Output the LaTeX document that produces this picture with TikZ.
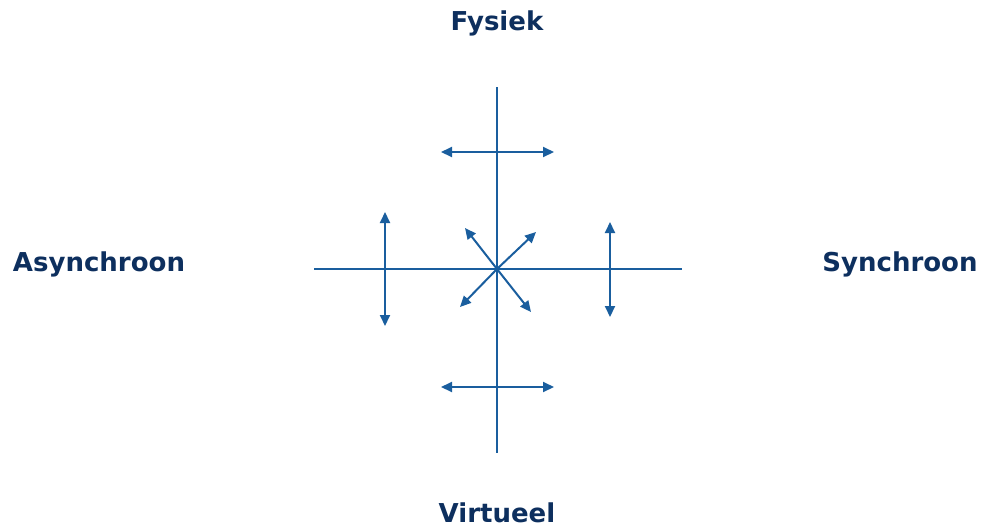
\documentclass[tikz,border=0pt]{standalone}
\usepackage{fontspec}
\setmainfont{DejaVu Sans}
\usetikzlibrary{arrows.meta}
\definecolor{txtc}{HTML}{0D2F5E}
\definecolor{linec}{HTML}{1A5E9E}
\begin{document}
\begin{tikzpicture}[x=1pt,y=-1pt,
  axis/.style={draw=linec,line width=2.6pt},
  dbl/.style={draw=linec,line width=2pt,{Triangle[length=11pt,width=10pt]}-{Triangle[length=11pt,width=10pt]}},
  one/.style={draw=linec,line width=2pt,-{Triangle[length=11pt,width=10pt]}},
  lbl/.style={text=txtc,font=\bfseries\fontsize{26}{30}\selectfont,inner sep=0pt}]
\useasboundingbox (0,0) rectangle (983,528);
\coordinate (c) at (497,269);
\coordinate (vt) at (497,87);
\coordinate (vb) at (497,453);
\coordinate (hl) at (314,269);
\coordinate (hr) at (682,269);
\draw[axis] (vt) -- (vb);
\draw[axis] (hl) -- (hr);
\coordinate (t1) at (441,152); \coordinate (t2) at (554,152);
\coordinate (b1) at (441,387); \coordinate (b2) at (554,387);
\coordinate (l1) at (385,212); \coordinate (l2) at (385,326);
\coordinate (r1) at (610,222); \coordinate (r2) at (610,317);
\draw[dbl] (t1) -- (t2);
\draw[dbl] (b1) -- (b2);
\draw[dbl] (l1) -- (l2);
\draw[dbl] (r1) -- (r2);
\coordinate (d1) at (465,228); \coordinate (d2) at (536,232);
\coordinate (d3) at (460,307); \coordinate (d4) at (531,312);
\draw[one] (c) -- (d1);
\draw[one] (c) -- (d2);
\draw[one] (c) -- (d3);
\draw[one] (c) -- (d4);
\node[lbl] (fys) at (497,23) {Fysiek};
\node[lbl] (vir) at (497,513) {Virtueel};
\node[lbl] (asy) at (99,264) {Asynchroon};
\node[lbl] (syn) at (900,264) {Synchroon};
\end{tikzpicture}
\end{document}
